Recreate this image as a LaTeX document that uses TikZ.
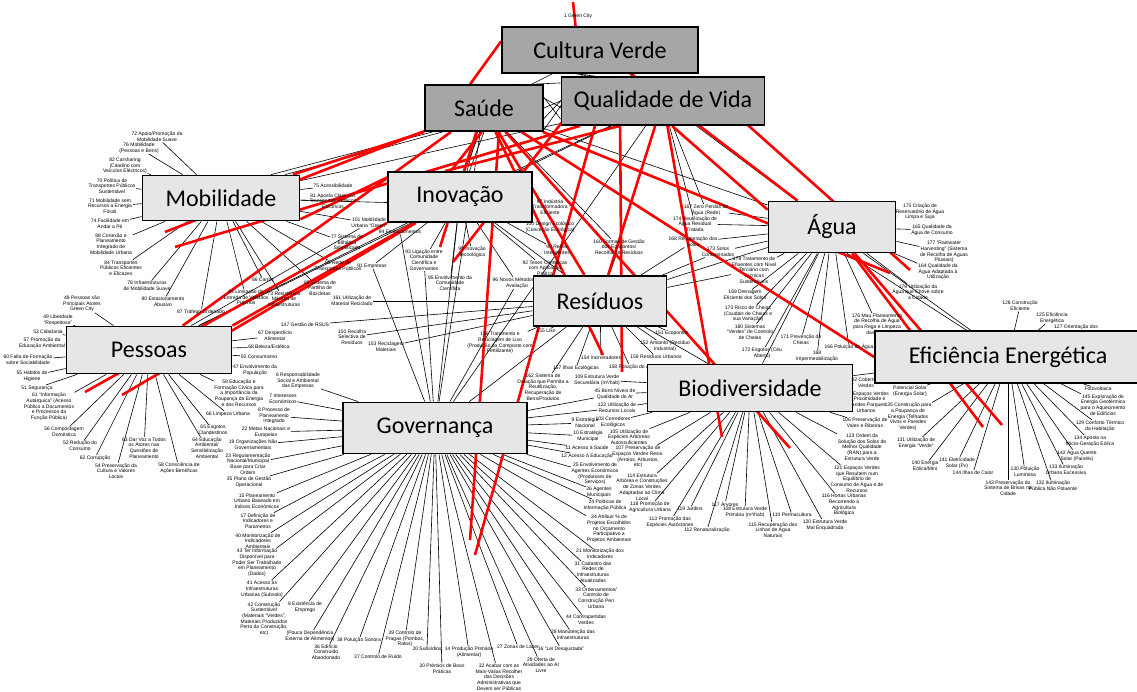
\documentclass[tikz,border=0pt]{standalone}
\usepackage{fontspec}
\setmainfont{Liberation Sans}
\newfontfamily\boxfont{Carlito}
\usepackage{tikz}
\usetikzlibrary{arrows,shapes}
\pgfdeclarelayer{background}
\pgfsetlayers{background,main}
\definecolor{themegray}{HTML}{E6E6E6}
\definecolor{coregray}{HTML}{A6A6A6}
\tikzstyle{theme}=[rectangle, draw
%,rounded corners
,line width=1.8pt
,fill=themegray
,inner sep=0pt
,font=\boxfont\fontsize{24}{28}\selectfont
]
\tikzstyle{maintheme}=[theme, fill=coregray]
\tikzstyle{factor}=[align=center, inner sep=0.6pt, font=\fontsize{5}{5.7}\selectfont]
\tikzstyle{link} = [draw,line width=0.6pt,-]
\tikzstyle{redlink} = [draw,red,line width=2.6pt,-]

\begin{document}
\begin{tikzpicture}[x=1pt,y=-1pt]
    \useasboundingbox (0,0) rectangle (1137,692);
    % Draw the green city map
    % First we draw the factors
    \foreach \pos/\name/\txt in {{(578,16)/l1/{1 Green City}},
        {(157,137)/l72/{72 Apoio/Promoção da\\Mobilidade Suave}},
        {(139,148)/l76/{76 Mobilidade\\(Pessoas e Bens)}},
        {(125,166)/l82/{82 Carsharing\\(Citadino com\\Veículos Eléctricos)}},
        {(112,186)/l70/{70 Política de\\Transportes Públicos\\Sustentável}},
        {(110,206)/l71/{71 Mobilidade sem\\Recursos a Energia\\Fóssil}},
        {(110,224)/l74/{74 Facilidade em\\Andar a Pé}},
        {(111,244)/l88/{88 Conexão e\\Planeamento\\Integrado de\\Mobilidade Urbana}},
        {(121,268)/l84/{84 Transportes\\Públicos Eficientes\\e Eficazes}},
        {(147,286)/l78/{78 Infraestruturas\\de Mobilidade Suave}},
        {(163,302)/l80/{80 Estacionamento\\Abusivo}},
        {(201,312)/l87/{87 Tráfego Ordenado}},
        {(246,298)/l83/{83 Limitação da\\Entrada de Veículos\\Próprios}},
        {(263,280)/l86/{86 Carros}},
        {(284,299)/l73/{73 Resistência\\Máxima de\\Infraestruturas}},
        {(320,288)/l89/{89 Sistema de\\Partilha de\\Bicicletas}},
        {(338,266)/l85/{85 Rede de\\Transportes Públicos}},
        {(347,243)/l77/{77 Sistema de\\Bilhética\\Simplificada}},
        {(369,223)/l101/{101 Mobilidade\\Urbana “Green”}},
        {(333,186)/l75/{75 Acessibilidade}},
        {(333,201)/l81/{81 Aposta Clara nos\\Transportes Públicos\\Eléctricos}},
        {(82,304)/l48/{48 Pessoas são\\Principais Atores\\Green City}},
        {(58,320)/l49/{49 Liberdade\\“Respeitosa”}},
        {(48,332)/l53/{53 Cidadania}},
        {(42,343)/l57/{57 Promoção da\\Educação Ambiental}},
        {(28,360)/l60/{60 Falta de Formação\\sobre Sociabilidade}},
        {(32,376)/l55/{55 Hábitos de\\Higiene}},
        {(37,388)/l51/{51 Segurança}},
        {(49,407)/l61/{61 “Informação\\Autárquica” (Acesso\\Público a Documentos\\e Processos da\\Função Pública)}},
        {(64,432)/l56/{56 Compostagem\\Doméstica}},
        {(80,446)/l52/{52 Redução do\\Consumo}},
        {(95,458)/l62/{62 Corrupção}},
        {(116,471)/l54/{54 Preservação da\\Cultura e Valores\\Locais}},
        {(144,448)/l63/{63 Dar Voz a Todos\\os Atores nas\\Questões de\\Planeamento}},
        {(179,468)/l58/{58 Consciência de\\Ações Benéficas}},
        {(207,448)/l64/{64 Educação\\Ambiental/\\Sensibilização\\Ambiental}},
        {(213,430)/l65/{65 Esgotos\\Clandestinos}},
        {(228,414)/l66/{66 Limpeza Urbana}},
        {(239,393)/l59/{59 Educação e\\Formação Cívica para\\a Importância da\\Poupança da Energia\\e dos Recursos}},
        {(255,370)/l47/{47 Envolvimento da\\População}},
        {(259,357)/l50/{50 Consumismo}},
        {(269,347)/l68/{68 Beleza/Estética}},
        {(275,336)/l67/{67 Desperdício\\Alimentar}},
        {(298,381)/l6/{6 Responsabilidade\\Social e Ambiental\\das Empresas}},
        {(283,399)/l7/{7 Interesses\\Económicos}},
        {(274,416)/l8/{8 Processo de\\Planeamento\\Integrado}},
        {(266,432)/l22/{22 Metas Nacionais e\\Europeias}},
        {(253,445)/l19/{19 Organizações Não\\Governamentais}},
        {(248,464)/l23/{23 Regulamentação\\Nacional/Municipal\\Base para Criar\\Ordem}},
        {(249,482)/l35/{35 Plano de Gestão\\Operacional}},
        {(257,501)/l15/{15 Planeamento\\Urbano Baseado em\\Índices Económicos}},
        {(258,521)/l17/{17 Definição de\\Indicadores e\\Parametros}},
        {(258,541)/l40/{40 Monitorização de\\Indicadores\\Ambientais}},
        {(257,563)/l43/{43 Ter Informação\\Disponível para\\Poder Ser Trabalhado\\em Planeamento\\(Dados)}},
        {(262,589)/l41/{41 Acesso às\\Infraestruturas\\Urbanas (Subsolo)}},
        {(264,619)/l42/{42 Construção\\Sustentável\\(Materiais “Verdes”,\\Materiais Produzidos\\Perto da Construção,\\etc)}},
        {(305,607)/l18/{8 Existência de\\Emprego}},
        {(310,636)/l13/{(Pouca Dependência\\Externa de Alimentos)}},
        {(326,652)/l36/{36 Edifício\\Construído\\Abandonado}},
        {(359,640)/l38/{38 Poluição Sonora}},
        {(378,657)/l37/{37 Controlo de Ruído}},
        {(405,639)/l39/{39 Controlo de\\Pragas (Pombos,\\Ratos)}},
        {(427,649)/l20/{20 Subsídios}},
        {(442,669)/l30/{30 Prémios de Boas\\Práticas}},
        {(469,652)/l14/{14 Produção Primária\\(Alimentar)}},
        {(499,677)/l32/{32 Acabar com as\\Mais-Valias Recolher\\das Decisões\\Administrativas que\\Devem ser Públicas}},
        {(518,647)/l27/{27 Zonas de Lazer}},
        {(561,649)/l16/{16 “Lei Desajustada”}},
        {(541,665)/l29/{29 Oferta de\\Atividades ao Ar\\Livre}},
        {(573,635)/l28/{28 Manutenção das\\Infraestruturas}},
        {(586,620)/l44/{44 Contrapartidas\\Verdes}},
        {(596,598)/l33/{33 Ordenamentos/\\Controlo de\\Construção Peri\\Urbana}},
        {(593,572)/l31/{31 Cadastro das\\Redes de\\Infraestruturas\\Atualizadas}},
        {(600,554)/l21/{21 Monitorização dos\\Indicadores}},
        {(609,529)/l34/{34 Atribuir \% de\\Projetos Escolhidos\\no Orçamento\\Participativo a\\Projetos Ambientais}},
        {(605,505)/l24/{24 Políticas de\\Informação Pública}},
        {(599,492)/l26/{26 Agentes\\Municipais}},
        {(595,474)/l25/{25 Envolvimento de\\Agentes Económicos\\(Produtores de\\Serviços)}},
        {(587,456)/l12/{12 Acesso à Educação}},
        {(587,448)/l11/{11 Acesso à Saúde}},
        {(588,436)/l10/{10 Estratégia\\Municipal}},
        {(585,423)/l9/{9 Estratégia\\Nacional}},
        {(615,394)/l45/{45 Bons Níveis de\\Qualidade do Ar}},
        {(597,380)/l109/{109 Estrutura Verde\\Secundária (m²/hab)}},
        {(617,408)/l122/{122 Utilização de\\Recursos Locais}},
        {(613,422)/l103/{103 Corredores\\Ecológicos}},
        {(629,437)/l105/{105 Utilização de\\Espécies Arbóreas\\Autossuficientes}},
        {(638,457)/l107/{107 Preservação de\\Espaços Verdes Resis.\\(Arroios, Arbustos,\\etc)}},
        {(642,487)/l114/{114 Estrutura\\Arbórea e Construções\\de Zonas Verdes\\Adaptadas ao Clima\\Local}},
        {(650,507)/l118/{118 Promoção de\\Agricultura Urbana}},
        {(670,522)/l113/{113 Promoção das\\Espécies Autóctones}},
        {(707,530)/l112/{112 Renaturalização}},
        {(690,509)/l119/{119 Jardins}},
        {(725,504)/l117/{117 Árvores}},
        {(745,512)/l108/{108 Estrutura Verde\\Primária (m²/hab)}},
        {(773,530)/l115/{115 Recuperação das\\Linhas de Água\\Naturais}},
        {(792,515)/l110/{110 Permacultura}},
        {(825,525)/l120/{120 Estrutura Verde\\Mal Enquadrada}},
        {(844,505)/l116/{116 Hortas Urbanas\\Recorrendo à\\Agricultura\\Biológica}},
        {(857,479)/l121/{121 Espaços Verdes\\que Resultem num\\Equilíbrio de\\Consumo de Água e de\\Recursos}},
        {(862,447)/l123/{123 Ordem da\\Solução dos Solos de\\Melhor Qualidade\\(RAN) para a\\Estrutura Verde}},
        {(865,423)/l106/{106 Preservação de\\Vales e Ribeiras}},
        {(866,402)/l104/{104 Espaços Verdes\\de Proximidade e\\Grandes Parques\\Urbanos}},
        {(866,383)/l102/{102 Coberturas\\Verdes}},
        {(1020,306)/l128/{128 Construção\\Eficiente}},
        {(1052,318)/l125/{125 Eficiência\\Energética}},
        {(1076,330)/l127/{127 Orientação dos\\Edifícios}},
        {(1098,389)/l126/{Fotovoltaica}},
        {(1103,405)/l145/{145 Exploração de\\Energia Geotérmica\\para o Aquecimento\\de Edifícios}},
        {(1100,426)/l129/{129 Conforto Térmico\\da Habitação}},
        {(1090,441)/l134/{134 Aposta na\\Micro-Geração Eólica}},
        {(1077,456)/l142/{142 Água Quente\\Solar (Painéis)}},
        {(1066,470)/l133/{133 Iluminação\\Urbana Excessiva}},
        {(1053,486)/l132/{132 Iluminação\\Pública Não Poluente}},
        {(1025,472)/l130/{130 Poluição\\Luminosa}},
        {(1008,488)/l143/{143 Preservação do\\Sistema de Brisas na\\Cidade}},
        {(973,473)/l144/{144 Ilhas de Calor}},
        {(957,463)/l141/{141 Eletricidade\\Solar (Pv)}},
        {(925,466)/l140/{140 Energia\\Eólica/Mini}},
        {(916,443)/l131/{131 Utilização de\\Energia “Verde”}},
        {(908,417)/l135/{135 Construção para\\a Poupança de\\Energia (Telhados\\Vivos e Paredes\\Verdes)}},
        {(910,391)/l136/{Potencial Solar\\(Energia Solar)}},
        {(920,212)/l175/{175 Criação de\\Reservatório de Água\\Limpa e Suja}},
        {(932,230)/l165/{165 Qualidade da\\Água de Consumo}},
        {(944,252)/l177/{177 “Rainwater\\Harvesting” (Sistema\\de Recolha de Águas\\Pluviais)}},
        {(938,272)/l164/{164 Qualidade da\\Água Adaptada à\\Utilização}},
        {(918,292)/l179/{179 Utilização da\\Água que Chove sobre\\a Cidade}},
        {(877,324)/l176/{176 Mau Planeamento\\de Recolha de Água\\para Rega e Limpeza\\das Ruas}},
        {(849,347)/l166/{166 Poluição da Água}},
        {(817,356)/l163/{168\\Impermeabilização}},
        {(801,340)/l171/{171 Prevenção de\\Cheias}},
        {(762,353)/l172/{172 Esgotos (Céu\\Aberto)}},
        {(750,332)/l180/{180 Sistemas\\“Verdes” de Controlo\\de Cheias}},
        {(748,314)/l170/{170 Risco de Cheias\\(Caudais de Cheias e\\sua Variação)}},
        {(745,295)/l169/{169 Drenagem\\Eficiente dos Solos}},
        {(754,270)/l178/{178 Tratamento de\\Efluentes com Nível\\Terciário com\\Técnicas\\Sustentáveis}},
        {(706,210)/l167/{167 Zero Perdas de\\Água (Rede)}},
        {(695,224)/l174/{174 Reutilização de\\Água Residual\\Tratada}},
        {(693,242)/l168/{168 Recuperação dos\\Solos}},
        {(718,252)/l173/{173 Solos\\Contaminados}},
        {(619,247)/l160/{160 Formas de Gestão\\dos Ecopontos/\\Recolha de Resíduos}},
        {(546,331)/l155/{155 Lixo}},
        {(500,343)/l156/{156 Tratamento e\\Reciclagem de Lixo\\(Produção do Composto com\\Fertilizante)}},
        {(672,333)/l151/{151 Ecopontos}},
        {(665,346)/l152/{152 Amianto (Resíduo\\Industrial)}},
        {(656,357)/l159/{159 Resíduos Urbanos}},
        {(601,358)/l154/{154 Incineradores}},
        {(386,347)/l153/{153 Reciclagem\\Materiais}},
        {(352,337)/l150/{150 Recolha\\Selectiva de\\Resíduos}},
        {(352,301)/l161/{161 Utilização de\\Material Reciclado}},
        {(305,325)/l147/{147 Gestão de RSUS}},
        {(543,387)/l162/{162 Sistema de\\Dotação que Permita a\\Reutilização,\\Recuperação de\\Bens/Produtos}},
        {(576,368)/l157/{157 Ilhas Ecológicas}},
        {(630,367)/l158/{158 Poluição do Ar}},
        {(550,207)/l97/{97 Indústria\\Transformadora\\Eficiente}},
        {(550,227)/l100/{100 Design Ecológico\\(Conceção Ecológica)}},
        {(557,250)/l90/{90 Redes\\Inteligentes}},
        {(545,268)/l92/{92 Teses Científicas\\com Aplicação\\Prática}},
        {(517,283)/l96/{96 Novos Métodos de\\Avaliação}},
        {(400,232)/l94/{94 Financiamentos}},
        {(424,260)/l93/{93 Ligação entre\\Comunidade\\Científica e\\Governantes}},
        {(472,252)/l99/{99 Inovação\\Tecnológica}},
        {(450,283)/l95/{95 Envolvimento da\\Comunidade\\Científica}},
        {(372,266)/l91/{91 Empresas}}}
        \node[factor] (\name) at \pos {\txt};
    % Then the themes
    \foreach \pos/\name/\w/\h/\txt in {{(600,50)/cult/196pt/46pt/Cultura Verde},
        {(484,108)/saude/118pt/46pt/Saúde}, {(663,101)/qual/203pt/48pt/Qualidade de Vida}}
        \node[maintheme, minimum width=\w, minimum height=\h] (\name) at \pos {\txt};
    \foreach \pos/\name/\w/\h/\txt in {{(221,198)/mob/157pt/45pt/Mobilidade},
        {(460,197)/inov/144pt/50pt/Inovação}, {(832,227)/agua/127pt/51pt/Água},
        {(600,301)/resid/133pt/50pt/Resíduos}, {(149,350)/pess/165pt/47pt/Pessoas},
        {(435,428)/gov/184pt/51pt/Governança}, {(750,388)/biod/205pt/47pt/Biodiversidade},
        {(1008,357)/efic/266pt/52pt/Eficiência Energética}}
        \node[theme, minimum width=\w, minimum height=\h] (\name) at \pos {\txt};
    % Ends of the red lines
    \coordinate (gcA) at (573,2);    \coordinate (gcB) at (577,40);
    \coordinate (s1) at (165,232);   \coordinate (s2) at (175,247);
    \coordinate (s3) at (85,392);    \coordinate (s4) at (122,395);
    \coordinate (g1) at (470,540);   \coordinate (g2) at (475,555);
    \coordinate (b1) at (722,437);   \coordinate (b2) at (790,448);
    \coordinate (e1) at (983,427);   \coordinate (e2) at (1002,425);
    \coordinate (a1) at (910,270);   \coordinate (a2) at (890,273);
    \coordinate (s5) at (603,355);   \coordinate (i1) at (440,247);
    \coordinate (i2) at (453,262);   \coordinate (q2) at (622,372);
    \coordinate (sa1) at (500,118);  \coordinate (qa1) at (598,115);
    \coordinate (qa2) at (620,115);  \coordinate (qa3) at (570,112);
    \coordinate (qa4) at (740,118);
    \begin{pgfonlayer}{background}
    % Connect themes with factors
    \path[link] (mob) edge (l72) edge (l76) edge (l82) edge (l70) edge (l71) edge (l74)
        edge (l88) edge (l84) edge (l78) edge (l80) edge (l87) edge (l83) edge (l86)
        edge (l73) edge (l89) edge (l85) edge (l77) edge (l101) edge (l75) edge (l81);
    \path[link] (pess) edge (l48) edge (l49) edge (l53) edge (l57) edge (l60) edge (l55)
        edge (l51) edge (l61) edge (l56) edge (l52) edge (l62) edge (l54) edge (l63)
        edge (l58) edge (l64) edge (l65) edge (l66) edge (l59) edge (l47) edge (l50)
        edge (l68) edge (l67);
    \path[link] (gov) edge (l6) edge (l7) edge (l8) edge (l22) edge (l19) edge (l23)
        edge (l35) edge (l15) edge (l17) edge (l40) edge (l43) edge (l41) edge (l42)
        edge (l18) edge (l13) edge (l36) edge (l38) edge (l37) edge (l39) edge (l20)
        edge (l30) edge (l14) edge (l32) edge (l27) edge (l16) edge (l29) edge (l28)
        edge (l44) edge (l33) edge (l31) edge (l21) edge (l34) edge (l24) edge (l26)
        edge (l25) edge (l12) edge (l11) edge (l10) edge (l9) edge (l45) edge (l122);
    \path[link] (biod) edge (l109) edge (l45) edge (l122) edge (l103) edge (l105)
        edge (l107) edge (l114) edge (l118) edge (l113) edge (l112) edge (l119)
        edge (l117) edge (l108) edge (l115) edge (l110) edge (l120) edge (l116)
        edge (l121) edge (l123) edge (l106) edge (l104) edge (l102);
    \path[link] (efic) edge (l128) edge (l125) edge (l127) edge (l126) edge (l145)
        edge (l129) edge (l134) edge (l142) edge (l133) edge (l132) edge (l130)
        edge (l143) edge (l144) edge (l141) edge (l140) edge (l131) edge (l135)
        edge (l136);
    \path[link] (agua) edge (l175) edge (l165) edge (l177) edge (l164) edge (l179)
        edge (l176) edge (l166) edge (l163) edge (l171) edge (l172) edge (l180)
        edge (l170) edge (l169) edge (l178) edge (l167) edge (l174) edge (l168)
        edge (l173);
    \path[link] (resid) edge (l160) edge (l155) edge (l156) edge (l151) edge (l152)
        edge (l159) edge (l154) edge (l153) edge (l150) edge (l161) edge (l147)
        edge (l162) edge (l157) edge (l158) edge (l168) edge (l173) edge (l178);
    \path[link] (inov) edge (l97) edge (l100) edge (l90) edge (l92) edge (l96)
        edge (l94) edge (l93) edge (l99) edge (l95) edge (l91);
    % Links between the themes
    \path[link] (pess) edge (inov) edge (saude) edge (qual) edge (l101);
    \path[link] (gov) edge (inov) edge (saude) edge (qual) edge (l94) edge (l91)
        edge (l96) edge (resid) edge (l93);
    \path[link] (mob) edge (qual) edge (l97) (mob.20) edge (saude.-150)
        (mob.25) edge (saude.-155);
    \path[link] (resid) edge (agua) edge (biod) edge (inov);
    \path[link] (agua) edge (biod) (agua.-60) edge (efic) (agua.-40) edge (efic);
    \path[link] (biod) edge (efic);
    \path[link] (inov) edge (qual) edge (saude) (saude.-100) edge (inov.80)
        (saude.-90) edge (inov.70);
    \path[link] (qual) edge (agua) edge (l167) edge (l174) (saude) edge (l160)
        edge (agua) (cult) edge (agua);
    \path[link] (cult) edge (saude) edge (qual) (saude.10) edge (qual.190)
        (saude.25) edge (qual.170) (saude.-10) edge (cult.-120) (saude.0) edge (qual.150)
        (saude.35) edge (qual.200) (cult.-135) edge (qual.160) (cult.-125) edge (saude.-20);
    % Red lines on top of the black ones
    \path[redlink] (gcA) edge (gcB) (cult.175) edge (saude.120)
        (mob) edge (saude.south west) (mob.-15) edge (inov.165)
        (s1) edge (saude) (s2) edge (qual) (s3) edge (inov.south west) (s4) edge (inov)
        (pess) edge (saude) (pess.north east) edge (inov) (g1) edge (sa1) (g2) edge (qa1)
        (saude) edge (b2) edge (a2) edge (efic.west) edge (s5) edge (resid) edge (i1)
        (qual) edge (b1) edge (resid) (qa4) edge (a1) (qual.-70) edge (agua.165)
        (agua) edge (e1) edge (e2)
        (qa2) edge (q2) (qa3) edge (i2) (cult) edge (agua)
        (qual.-150) edge (inov.120) (saude.-95) edge (inov.110);
    \end{pgfonlayer}
\end{tikzpicture}
\end{document}
